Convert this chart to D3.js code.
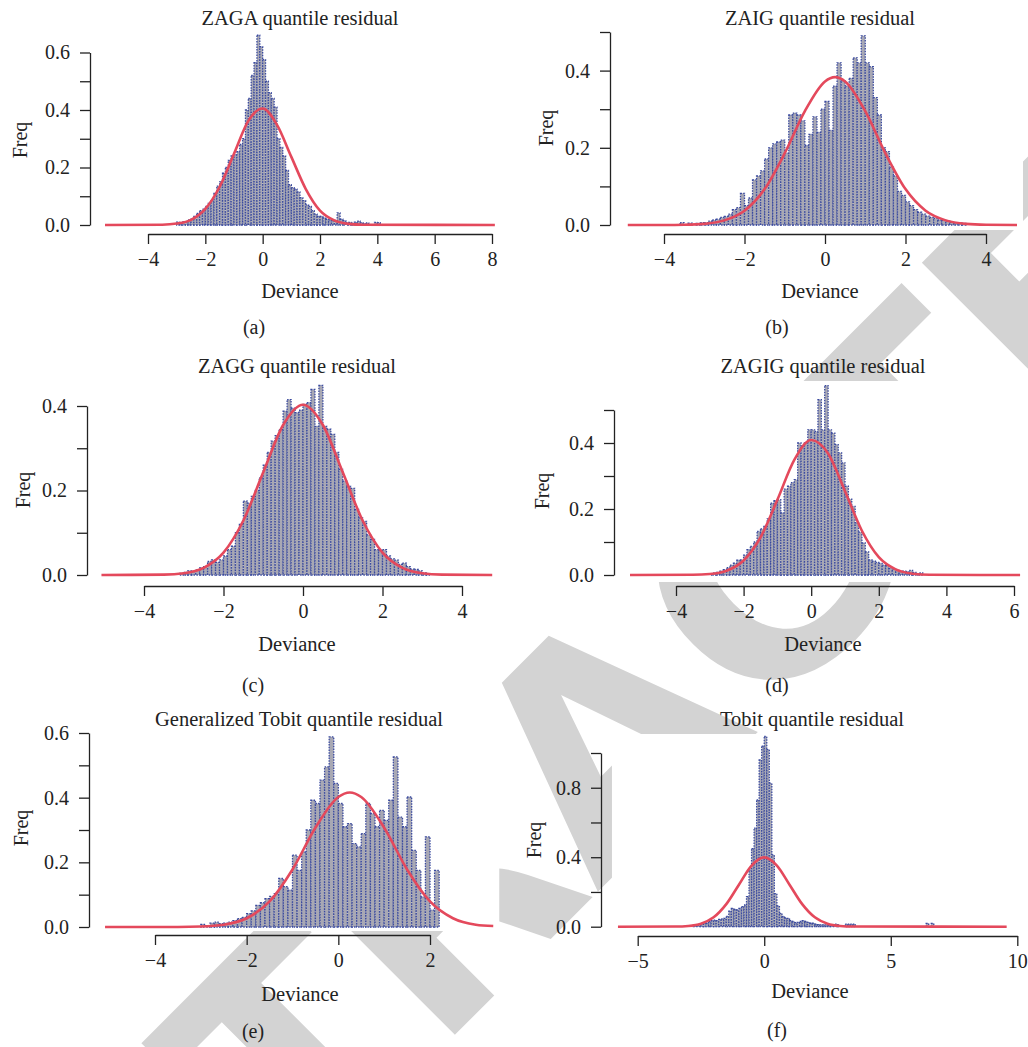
<!DOCTYPE html>
<html>
<head>
<meta charset="utf-8">
<script src="https://cdn.jsdelivr.net/npm/d3@7"></script>
<style>
  body { margin: 0; background: #fff; }
  svg { display: block; }
</style>
</head>
<body>
<div id="container"></div>
<script>
//Histogram bins are 0.1 wide, each array starts at the given left edge

var binWidth = 0.1;

//(a) ZAGA
var zagaStart = -3.0;
var zagaFreq = [0.010, 0.008, 0.012, 0.010, 0.018, 0.020, 0.030, 0.040, 0.050, 0.055,
    0.065, 0.075, 0.085, 0.110, 0.135, 0.150, 0.180, 0.200, 0.225, 0.240,
    0.245, 0.255, 0.280, 0.300, 0.400, 0.440, 0.520, 0.565, 0.660, 0.620,
    0.575, 0.500, 0.460, 0.440, 0.410, 0.300, 0.270, 0.240, 0.190, 0.140,
    0.130, 0.125, 0.115, 0.095, 0.085, 0.070, 0.065, 0.050, 0.038, 0.030,
    0.030, 0.025, 0.020, 0.018, 0.015, 0.016, 0.042, 0.020, 0.015, 0.008,
    0.009, 0.006, 0.010, 0.013, 0.008, 0.005, 0.007, 0, 0, 0.009, 0.008];
var zagaCurveX = [-5.5, -3.5, -3, -2.5, -2, -1.5, -1, -0.5, 0, 0.5, 1, 1.5, 2, 2.5, 3, 3.5, 8.1];
var zagaCurveY = [0, 0.001, 0.005, 0.018, 0.056, 0.133, 0.248, 0.362, 0.405, 0.348, 0.237, 0.126, 0.05, 0.016, 0.004, 0.001, 0];
var zagaXTicks = [-4, -2, 0, 2, 4, 6, 8];
var zagaYTicks = [0, 0.1, 0.2, 0.3, 0.4, 0.5, 0.6];
var zagaYLabels = ["0.0", "", "0.2", "", "0.4", "", "0.6"];

//(b) ZAIG
var zaigStart = -3.6;
var zaigFreq = [0.006, 0, 0.005, 0, 0.004, 0.006, 0.006, 0.010, 0.013, 0.015,
    0.020, 0.022, 0.028, 0.040, 0.045, 0.082, 0.050, 0.070, 0.117, 0.127,
    0.140, 0.171, 0.200, 0.210, 0.215, 0.220, 0.186, 0.285, 0.290, 0.285,
    0.270, 0.206, 0.235, 0.280, 0.240, 0.300, 0.320, 0.245, 0.360, 0.420,
    0.374, 0.360, 0.380, 0.433, 0.420, 0.490, 0.420, 0.410, 0.330, 0.285,
    0.200, 0.190, 0.150, 0.127, 0.087, 0.077, 0.060, 0.050, 0.040, 0.033,
    0.028, 0.023, 0.020, 0.017, 0.013, 0.012, 0.010, 0.007, 0.006, 0.005, 0.004];
var zaigCurveX = [-4.9, -4, -3.5, -3, -2.5, -2, -1.5, -1, -0.5, 0, 0.25, 0.5, 1, 1.5, 2, 2.5, 3, 3.5, 4, 4.77];
var zaigCurveY = [0, 0.0001, 0.0006, 0.003, 0.012, 0.037, 0.093, 0.186, 0.295, 0.372, 0.383, 0.372, 0.295, 0.186, 0.093, 0.037, 0.012, 0.003, 0.0006, 0];
var zaigXTicks = [-4, -2, 0, 2, 4];
var zaigYTicks = [0, 0.1, 0.2, 0.3, 0.4, 0.5];
var zaigYLabels = ["0.0", "", "0.2", "", "0.4", ""];

//(c) ZAGG
var zaggStart = -3.1;
var zaggFreq = [0.004, 0.006, 0.010, 0.008, 0.012, 0.017, 0.020, 0.032, 0.036, 0.030,
    0.036, 0.045, 0.060, 0.068, 0.100, 0.120, 0.175, 0.170, 0.186, 0.200,
    0.230, 0.260, 0.290, 0.317, 0.330, 0.344, 0.388, 0.415, 0.395, 0.384,
    0.390, 0.404, 0.408, 0.439, 0.352, 0.449, 0.352, 0.345, 0.333, 0.290,
    0.250, 0.222, 0.210, 0.205, 0.155, 0.135, 0.127, 0.095, 0.084, 0.060,
    0.058, 0.060, 0.045, 0.038, 0.035, 0.025, 0.028, 0.020, 0.014, 0.013,
    0.010, 0.005, 0.003];
var zaggCurveX = [-5.07, -3.5, -3, -2.5, -2, -1.5, -1, -0.5, 0, 0.5, 1, 1.5, 2, 2.5, 3, 3.5, 4.76];
var zaggCurveY = [0, 0.0009, 0.0043, 0.017, 0.053, 0.129, 0.243, 0.355, 0.403, 0.355, 0.243, 0.129, 0.053, 0.017, 0.0043, 0.0009, 0];
var zaggXTicks = [-4, -2, 0, 2, 4];
var zaggYTicks = [0, 0.1, 0.2, 0.3, 0.4];
var zaggYLabels = ["0.0", "", "0.2", "", "0.4"];

//(d) ZAGIG
var zagigStart = -3.0;
var zagigFreq = [0.004, 0.006, 0.008, 0.012, 0.016, 0.022, 0.030, 0.036, 0.045, 0.046,
    0.060, 0.077, 0.087, 0.100, 0.132, 0.140, 0.147, 0.170, 0.218, 0.225,
    0.228, 0.188, 0.260, 0.269, 0.280, 0.289, 0.400, 0.390, 0.400, 0.440,
    0.440, 0.435, 0.531, 0.440, 0.574, 0.440, 0.430, 0.395, 0.370, 0.340,
    0.269, 0.230, 0.208, 0.158, 0.130, 0.097, 0.070, 0.046, 0.042, 0.038,
    0.035, 0.030, 0.028, 0.020, 0.018, 0.014, 0.010, 0.012, 0.010, 0.014,
    0.008, 0.004, 0.006];
var zagigCurveX = [-5.36, -3.5, -3, -2.5, -2, -1.5, -1, -0.5, 0, 0.5, 1, 1.5, 2, 2.5, 3, 3.5, 6.18];
var zagigCurveY = [0, 0.0006, 0.003, 0.013, 0.044, 0.114, 0.228, 0.349, 0.409, 0.368, 0.254, 0.134, 0.054, 0.017, 0.004, 0.0007, 0];
var zagigXTicks = [-4, -2, 0, 2, 4, 6];
var zagigYTicks = [0, 0.1, 0.2, 0.3, 0.4, 0.5];
var zagigYLabels = ["0.0", "", "0.2", "", "0.4", ""];

//(e) Generalized Tobit
var gtobitStart = -3.0;
var gtobitFreq = [0.008, 0.004, 0.012, 0.015, 0.010, 0.012, 0.015, 0.020, 0.026, 0.030,
    0.041, 0.050, 0.067, 0.075, 0.088, 0.095, 0.103, 0.150, 0.125, 0.114,
    0.222, 0.175, 0.232, 0.300, 0.392, 0.382, 0.454, 0.495, 0.588, 0.444,
    0.382, 0.310, 0.320, 0.258, 0.248, 0.289, 0.382, 0.351, 0.310, 0.361,
    0.330, 0.392, 0.526, 0.340, 0.310, 0.402, 0.237, 0.175, 0.093, 0.279,
    0.052, 0.175];
var gtobitCurveX = [-5.09, -3.5, -3, -2.5, -2, -1.5, -1, -0.5, 0, 0.25, 0.5, 1, 1.5, 2, 2.5, 3, 3.38];
var gtobitCurveY = [0, 0.0002, 0.0014, 0.007, 0.027, 0.079, 0.178, 0.307, 0.402, 0.416, 0.402, 0.307, 0.178, 0.079, 0.027, 0.007, 0.003];
var gtobitXTicks = [-4, -2, 0, 2];
var gtobitYTicks = [0, 0.1, 0.2, 0.3, 0.4, 0.5, 0.6];
var gtobitYLabels = ["0.0", "", "0.2", "", "0.4", "", "0.6"];

//(f) Tobit
var tobitStart = -2.8;
var tobitFreq = [0.010, 0.012, 0.015, 0.018, 0.023, 0.020, 0.030, 0.035, 0.038, 0.035,
    0.042, 0.045, 0.048, 0.060, 0.090, 0.106, 0.100, 0.096, 0.105, 0.115,
    0.125, 0.173, 0.327, 0.450, 0.567, 0.730, 0.960, 1.040, 1.095, 1.020,
    0.826, 0.413, 0.190, 0.120, 0.077, 0.060, 0.050, 0.048, 0.035, 0.030,
    0.023, 0.025, 0.030, 0.035, 0.030, 0.025, 0.020, 0.020, 0.015, 0.012,
    0.010, 0.010, 0.010, 0.008, 0.010, 0.012, 0.015, 0.010, 0, 0,
    0.015, 0.015, 0.015, 0.015, 0, 0, 0, 0, 0, 0,
    0, 0, 0, 0, 0, 0, 0, 0, 0, 0,
    0, 0, 0, 0, 0, 0, 0, 0, 0, 0,
    0, 0, 0.019, 0, 0.019];
var tobitCurveX = [-5.78, -3.5, -3, -2.5, -2, -1.5, -1, -0.5, 0, 0.5, 1, 1.5, 2, 2.5, 3, 3.5, 9.58];
var tobitCurveY = [0, 0.0009, 0.0044, 0.0175, 0.054, 0.13, 0.242, 0.352, 0.399, 0.352, 0.242, 0.13, 0.054, 0.0175, 0.0044, 0.0009, 0];
var tobitXTicks = [-5, 0, 5, 10];
var tobitYTicks = [0, 0.2, 0.4, 0.6, 0.8, 1.0];
var tobitYLabels = ["0.0", "", "0.4", "", "0.8", ""];

///////////////////////////////////////////////////////////////////////////
//////////////////////////// Panel layout //////////////////////////////////
///////////////////////////////////////////////////////////////////////////

var panels = [
    { title: "ZAGA quantile residual", tag: "(a)", start: zagaStart, freq: zagaFreq, cx: zagaCurveX, cy: zagaCurveY,
      xTicks: zagaXTicks, yTicks: zagaYTicks, yLabels: zagaYLabels,
      xDomain: [-4, 8], xRange: [148, 492], yDomain: [0, 0.6], yRange: [225, 52.5],
      xAxisY: 234, yAxisX: 90, titleX: 300, titleY: 25, freqX: 27, freqY: 140, devX: 300, devY: 298, tagX: 254, tagY: 334 },
    { title: "ZAIG quantile residual", tag: "(b)", start: zaigStart, freq: zaigFreq, cx: zaigCurveX, cy: zaigCurveY,
      xTicks: zaigXTicks, yTicks: zaigYTicks, yLabels: zaigYLabels,
      xDomain: [-4, 4], xRange: [664, 986], yDomain: [0, 0.5], yRange: [225, 32],
      xAxisY: 234, yAxisX: 610, titleX: 820, titleY: 25, freqX: 553, freqY: 128, devX: 820, devY: 298, tagX: 777, tagY: 334 },
    { title: "ZAGG quantile residual", tag: "(c)", start: zaggStart, freq: zaggFreq, cx: zaggCurveX, cy: zaggCurveY,
      xTicks: zaggXTicks, yTicks: zaggYTicks, yLabels: zaggYLabels,
      xDomain: [-4, 4], xRange: [144, 462], yDomain: [0, 0.4], yRange: [575, 406],
      xAxisY: 586, yAxisX: 87, titleX: 297, titleY: 373, freqX: 30, freqY: 490, devX: 297, devY: 651, tagX: 253, tagY: 692 },
    { title: "ZAGIG quantile residual", tag: "(d)", start: zagigStart, freq: zagigFreq, cx: zagigCurveX, cy: zagigCurveY,
      xTicks: zagigXTicks, yTicks: zagigYTicks, yLabels: zagigYLabels,
      xDomain: [-4, 6], xRange: [676, 1014], yDomain: [0, 0.5], yRange: [575, 410],
      xAxisY: 586, yAxisX: 614, titleX: 823, titleY: 373, freqX: 549, freqY: 491, devX: 823, devY: 651, tagX: 777, tagY: 692 },
    { title: "Generalized Tobit quantile residual", tag: "(e)", start: gtobitStart, freq: gtobitFreq, cx: gtobitCurveX, cy: gtobitCurveY,
      xTicks: gtobitXTicks, yTicks: gtobitYTicks, yLabels: gtobitYLabels,
      xDomain: [-4, 2], xRange: [155, 430], yDomain: [0, 0.6], yRange: [927, 733],
      xAxisY: 935, yAxisX: 89, titleX: 299, titleY: 726, freqX: 28, freqY: 828, devX: 300, devY: 1001, tagX: 253, tagY: 1038 },
    { title: "Tobit quantile residual", tag: "(f)", start: tobitStart, freq: tobitFreq, cx: tobitCurveX, cy: tobitCurveY,
      xTicks: tobitXTicks, yTicks: tobitYTicks, yLabels: tobitYLabels,
      xDomain: [-5, 10], xRange: [637.7, 1017.3], yDomain: [0, 1.0], yRange: [926.7, 753],
      xAxisY: 936, yAxisX: 601, titleX: 812, titleY: 726, freqX: 541, freqY: 840, devX: 810, devY: 998, tagX: 777, tagY: 1037 }
];

var serif = "'Liberation Serif', 'Times New Roman', serif";
var ink = "#222";

//Create SVG element
var svg = d3.select("#container").append("svg")
    .attr("width", 1028)
    .attr("height", 1047);

//Watermark behind everything
svg.append("text")
    .attr("transform", "translate(605,734) rotate(-45)")
    .attr("text-anchor", "middle")
    .attr("dy", "0.36em")
    .style("font-family", "'DejaVu Sans', sans-serif")
    .style("font-weight", "bold")
    .style("font-size", "296px")
    .style("fill", "#d3d3d3")
    .text("RETRACTED");

panels.forEach(drawPanel);

function drawPanel(p) {
    var x = d3.scaleLinear().domain(p.xDomain).range(p.xRange);
    var y = d3.scaleLinear().domain(p.yDomain).range(p.yRange);
    var g = svg.append("g");

    //white plot region (covers the watermark)
    var left = x(p.cx[0]) - 6,
        right = x(p.cx[p.cx.length - 1]) + 6;
    g.append("rect")
        .attr("x", left)
        .attr("y", p.titleY + 8)
        .attr("width", right - left)
        .attr("height", p.xAxisY - 4 - (p.titleY + 8))
        .attr("fill", "#fff");

    //histogram bars, gray with dotted blue borders
    var bins = p.freq.map(function (v, i) {
        return { x0: p.start + i * binWidth, v: v };
    }).filter(function (d) { return d.v > 0; });
    var bw = x(binWidth) - x(0);

    g.append("g")
        .selectAll("rect")
        .data(bins)
        .enter().append("rect")
        .attr("x", function (d) { return x(d.x0); })
        .attr("y", function (d) { return y(d.v); })
        .attr("width", bw)
        .attr("height", function (d) { return y(0) - y(d.v); })
        .attr("fill", "#a8a8b4")
        .attr("stroke", "#3a4a9f")
        .attr("stroke-width", 1.3)
        .attr("stroke-dasharray", "1.5,1.2");

    //normal density curve
    var line = d3.line()
        .x(function (d) { return x(d[0]); })
        .y(function (d) { return y(d[1]); })
        .curve(d3.curveMonotoneX);
    g.append("path")
        .datum(d3.zip(p.cx, p.cy))
        .attr("d", line)
        .attr("fill", "none")
        .attr("stroke", "#e4495c")
        .attr("stroke-width", 2.6)
        .attr("stroke-linejoin", "round");

    //axes
    var xAxis = g.append("g")
        .attr("transform", "translate(0," + p.xAxisY + ")")
        .call(d3.axisBottom(x).tickValues(p.xTicks).tickFormat(d3.format("d"))
            .tickSize(10).tickPadding(8).tickSizeOuter(0));
    var yAxis = g.append("g")
        .attr("transform", "translate(" + p.yAxisX + ",0)")
        .call(d3.axisLeft(y).tickValues(p.yTicks)
            .tickFormat(function (d, i) { return p.yLabels[i]; })
            .tickSize(10).tickPadding(10).tickSizeOuter(0));

    [xAxis, yAxis].forEach(function (a) {
        a.selectAll("path, line").attr("stroke", ink).attr("stroke-width", 1.3);
        a.selectAll("text").attr("fill", ink).style("font-family", serif).style("font-size", "20px");
    });

    //texts
    g.append("text")
        .attr("x", p.titleX).attr("y", p.titleY)
        .attr("text-anchor", "middle")
        .style("font-family", serif).style("font-size", "20.5px").style("fill", ink)
        .text(p.title);
    g.append("text")
        .attr("transform", "translate(" + p.freqX + "," + p.freqY + ") rotate(-90)")
        .attr("text-anchor", "middle")
        .style("font-family", serif).style("font-size", "20px").style("fill", ink)
        .text("Freq");
    g.append("text")
        .attr("x", p.devX).attr("y", p.devY)
        .attr("text-anchor", "middle")
        .style("font-family", serif).style("font-size", "20.5px").style("fill", ink)
        .text("Deviance");
    g.append("text")
        .attr("x", p.tagX).attr("y", p.tagY)
        .attr("text-anchor", "middle")
        .style("font-family", serif).style("font-size", "20px").style("fill", ink)
        .text(p.tag);
}
</script>
</body>
</html>
